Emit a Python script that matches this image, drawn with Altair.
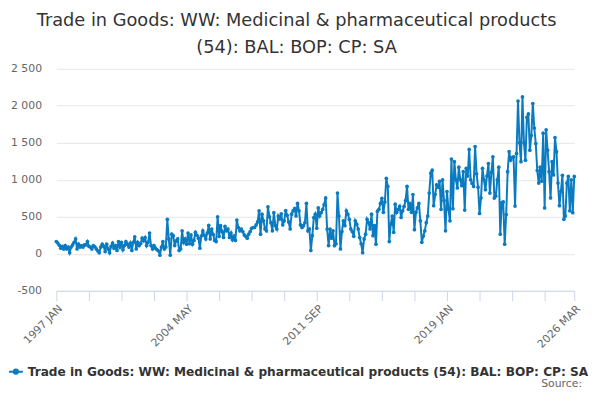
import altair as alt
import pandas as pd

MONTHS = ["JAN", "FEB", "MAR", "APR", "MAY", "JUN", "JUL", "AUG", "SEP", "OCT", "NOV", "DEC"]
START_YEAR = 1997

# monthly values, one row per year (1997 JAN .. 2026 MAR)
values = [
    165, 145, 115, 75, 100, 65, 110, 65, 90, 15, 90, 120,          # 1997
    155, 200, 65, 130, 90, 110, 90, 120, 120, 165, 100, 90,        # 1998
    65, 110, 95, 65, 40, 15, 90, 130, 100, 30, 130, 65,            # 1999
    15, 100, 145, 75, 110, 45, 165, 90, 155, 55, 110, 165,         # 2000
    130, 90, 145, 45, 155, 230, 65, 155, 110, 140, 210, 175,       # 2001
    220, 110, 155, 280, 110, 65, 110, 75, 55, 40, -20, 90,         # 2002
    165, 65, 90, 465, 200, -20, 265, 245, 110, 175, 200, 45,       # 2003
    65, 310, 155, 200, 130, 280, 135, 255, 130, 180, 290, 250,     # 2004
    210, 75, 240, 310, 250, 200, 280, 385, 200, 335, 260, 180,     # 2005
    165, 500, 235, 380, 300, 220, 370, 310, 335, 220, 280, 190,    # 2006
    240, 180, 455, 355, 310, 335, 300, 255, 235, 210, 265, 300,    # 2007
    345, 355, 355, 390, 430, 580, 265, 535, 445, 335, 310, 635,    # 2008
    500, 420, 310, 555, 380, 335, 510, 470, 540, 390, 445, 585,    # 2009
    520, 430, 335, 535, 580, 610, 510, 680, 580, 390, 355, 380,    # 2010
    420, 680, 310, 335, 45, 245, 490, 535, 345, 620, 510, 555,     # 2011
    600, 665, 755, 335, 110, 335, 210, 310, 110, 135, 820, 510,    # 2012
    65, 300, 445, 380, 580, 535, 465, 335, 300, 235, 445, 400,     # 2013
    335, 220, 135, 15, 200, 265, 465, 420, 335, 535, 245, 380,     # 2014
    130, 575, 600, 680, 750, 560, 700, 1020, 910, 165, 400, 510,   # 2015
    290, 670, 560, 600, 640, 490, 580, 640, 720, 910, 600, 680,    # 2016
    560, 800, 325, 560, 620, 680, 445, 155, 240, 310, 420, 510,    # 2017
    820, 1090, 1130, 650, 800, 930, 900, 980, 600, 1000, 720, 310, # 2018
    840, 600, 445, 1280, 610, 1245, 1000, 890, 1170, 1000, 920, 1110,   # 2019
    590, 1155, 1050, 1410, 1000, 950, 910, 1450, 1080, 900, 545, 755,   # 2020
    1155, 1000, 865, 1050, 1220, 820, 1100, 1310, 755, 780, 1000, 1170, # 2021
    265, 690, 700, 130, 530, 1110, 1380, 1265, 1300, 1310, 645, 1355,   # 2022
    2065, 1500, 1245, 2120, 1500, 1265, 1845, 1890, 1400, 1600, 2030, 1700,  # 2023
    1490, 1125, 955, 1170, 980, 1630, 620, 1675, 1400, 1110, 755, 1245,      # 2024
    1065, 1570, 1380, 955, 650, 845, 1060, 465, 510, 955, 1045, 580,         # 2025
    1000, 555, 1045,                                                          # 2026
]

months = [f"{START_YEAR + i // 12} {MONTHS[i % 12]}" for i in range(len(values))]

tick_labels = ["1997 JAN", "2004 MAY", "2011 SEP", "2019 JAN", "2026 MAR"]
tick_months = months[::22] + [months[-1]]
y_ticks = [-500, 0, 500, 1000, 1500, 2000, 2500]

series_name = "Trade in Goods: WW: Medicinal & pharmaceutical products (54): BAL: BOP: CP: SA"
title_lines = ["Trade in Goods: WW: Medicinal & pharmaceutical products", "(54): BAL: BOP: CP: SA"]

df = pd.DataFrame({"month": months, "value": values, "series": series_name})

FONT = "DejaVu Sans"
LINE_COLOR = "#0b7bc1"

label_list = ",".join("'" + t + "'" for t in tick_labels)

legend_symbol = "M-1,0L1,0M0.3,0A0.3,0.3,0,1,1,-0.3,0A0.3,0.3,0,1,1,0.3,0Z"

line = alt.Chart(df).mark_line(
    strokeWidth=2,
    point=alt.OverlayMarkDef(size=14, filled=True, color=LINE_COLOR),
).encode(
    x=alt.X(
        "month:O",
        sort=months,
        scale=alt.Scale(type="point", padding=0),
        axis=alt.Axis(
            title=None,
            values=tick_months,
            labelExpr=f"indexof([{label_list}], datum.value) >= 0 ? datum.value : ''",
            labelAngle=-45,
            labelFont=FONT,
            labelFontSize=11,
            labelColor="#666666",
            labelPadding=2,
            labelOverlap=False,
            domainColor="#ccd6eb",
            tickColor="#ccd6eb",
            tickSize=10,
            grid=False,
        ),
    ),
    y=alt.Y(
        "value:Q",
        scale=alt.Scale(domain=[-500, 2500], nice=False, zero=False),
        axis=alt.Axis(
            title=None,
            values=y_ticks,
            labelExpr="datum.value < 0 ? '-' + format(-datum.value, ',') : replace(format(datum.value, ','), ',', ' ')",
            labelFont=FONT,
            labelFontSize=11,
            labelColor="#666666",
            labelPadding=15,
            domain=False,
            ticks=False,
            gridColor="#e6e6e6",
        ),
    ),
    color=alt.Color(
        "series:N",
        scale=alt.Scale(range=[LINE_COLOR]),
        legend=alt.Legend(
            title=None,
            orient="none",
            legendX=-49,
            legendY=299,
            symbolType=legend_symbol,
            symbolSize=196,
            symbolStrokeWidth=2,
            symbolFillColor=LINE_COLOR,
            symbolStrokeColor=LINE_COLOR,
            labelFont=FONT,
            labelFontWeight="bold",
            labelFontSize=12.3,
            labelColor="#333333",
            labelLimit=0,
            labelOffset=4,
            padding=0,
        ),
    ),
)

source = alt.Chart(pd.DataFrame({"t": ["Source:"]})).mark_text(
    font=FONT, fontSize=11, color="#666666", align="right", baseline="alphabetic"
).encode(
    x=alt.value(533),
    y=alt.value(323),
    text="t:N",
)

chart = alt.layer(line, source).properties(
    width=525,
    height=225,
    padding={"left": 49, "top": 59, "right": 18, "bottom": 99},
    autosize=alt.AutoSizeParams(type="none"),
    title=alt.TitleParams(
        text=title_lines,
        font=FONT,
        fontSize=18,
        fontWeight="normal",
        color="#333333",
        anchor="middle",
        lineHeight=27,
        dx=-19,
        offset=6,
    ),
).configure_view(stroke=None)

chart.save("out.html", embed_options={"renderer": "svg", "actions": False})
